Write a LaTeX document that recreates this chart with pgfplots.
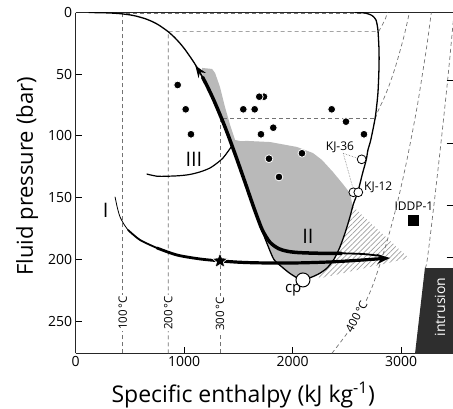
\documentclass[border=0pt]{standalone}
\usepackage{fontspec}
\setmainfont{Open Sans}
\usepackage{pgfplots}
\pgfplotsset{compat=1.18}
\usetikzlibrary{arrows.meta,patterns.meta}

\pgfdeclareplotmark{fstar}{%
  \pgfpathmoveto{\pgfpointpolar{90}{\pgfplotmarksize}}%
  \pgfpathlineto{\pgfpointpolar{126}{0.45\pgfplotmarksize}}%
  \pgfpathlineto{\pgfpointpolar{162}{\pgfplotmarksize}}%
  \pgfpathlineto{\pgfpointpolar{198}{0.45\pgfplotmarksize}}%
  \pgfpathlineto{\pgfpointpolar{234}{\pgfplotmarksize}}%
  \pgfpathlineto{\pgfpointpolar{270}{0.45\pgfplotmarksize}}%
  \pgfpathlineto{\pgfpointpolar{306}{\pgfplotmarksize}}%
  \pgfpathlineto{\pgfpointpolar{342}{0.45\pgfplotmarksize}}%
  \pgfpathlineto{\pgfpointpolar{18}{\pgfplotmarksize}}%
  \pgfpathlineto{\pgfpointpolar{54}{0.45\pgfplotmarksize}}%
  \pgfpathclose
  \pgfusepathqfillstroke
}

\begin{document}
\begin{tikzpicture}
\begin{axis}[
  name=ax,
  scale only axis, width=377.3pt, height=340.8pt,
  xmin=0, xmax=3478, ymin=0, ymax=276, y dir=reverse,
  axis x line*=box, axis y line*=left,
  axis line style={line width=1.3pt, black!85},
  xtick pos=bottom, ytick pos=left,
  tick align=inside, major tick length=6pt,
  every tick/.style={black, line width=1pt},
  xtick={0,1000,2000,3000}, ytick={0,50,100,150,200,250},
  /pgf/number format/assume math mode=true,
  /pgf/number format/1000 sep={},
  ticklabel style={font=\fontsize{14}{17}\selectfont},
  xlabel={Specific enthalpy (kJ kg\textsuperscript{-1})},
  ylabel={Fluid pressure (bar)},
  xlabel style={at={(axis description cs:0.444,-0.1458)}, anchor=base, font=\fontsize{23}{27}\selectfont},
  ylabel style={at={(axis description cs:-0.1132,0.519)}, anchor=base, font=\fontsize{22}{26}\selectfont},
  iso/.style={black!55, line width=0.7pt, dash pattern=on 4pt off 3pt},
  clip=true,
]
% gray two-phase inclusion field
\addplot[fill=gray!55, draw=none] coordinates {
 (1164,44.9)(1257,45.7)(1285,49)(1330,60.3)(1376,76.5)(1423,91)(1469,103.2)(1520,104.2)(1580,104)(1792,104.9)(2040,108.9)(2187,113.8)(2270,119.4)(2371,129.1)(2463,138.9)(2528,146.2)(2553,157)
 (2528,165.6)(2485,178)(2436,189.9)(2380,200)(2316,207)(2250,211.2)(2178,214.2)(2095,216.6)
 (2039,214.8)(1970,211)(1900,206)(1827,200)(1777,190)(1732,180)(1690,170)(1650,160)(1610,150)(1571,140)(1531,130)(1491,120)(1450,110)(1408,100)(1364,90)(1317,80)(1268,70)(1214,60)(1170,52)
} -- cycle;
% hatched field
\addplot[draw=none, pattern={Lines[angle=45,distance=3.6pt,line width=0.7pt]}, pattern color=gray!75] coordinates {
 (2553,157)(3072,199)(2240,215.5)(2250,211.2)(2316,207)(2380,200)(2436,189.9)(2485,178)(2528,165.6)
} -- cycle;
% isotherms
\addplot[iso] coordinates {(430,276)(430,1)(2660,1)};
\addplot[iso] coordinates {(853,276)(853,15.5)(2792,15.5)(2827,10)(2855,5)(2875,0)};
\addplot[iso] coordinates {(1330,276)(1330,86)(2762,86)};
\addplot[iso, smooth] coordinates {(2762,86)(2786,80)(2839,70)(2885,60)(2925,50)(2961,40)(2993,30)(3024,20)(3051,10)(3076,0)};
\addplot[iso, smooth] coordinates {(2362,276)(2580,250)(2720,225)(2819,200)(2903,175)(2976,150)(3040,125)(3097,100)(3150,75)(3196,50)(3240,25)(3278,0)};
\addplot[iso, smooth] coordinates {(3219,207)(3241,200)(3310,150)(3374,100)(3434,50)(3488,0)};
% intrusion
\addplot[fill=black!82, draw=none] coordinates {(3127,277)(3219,207)(3490,207)(3490,277)} -- cycle;
\node[white, rotate=90, font=\fontsize{14}{17}\selectfont] at (axis cs:3358,238.5) {intrusion};
% isotherm labels
\node[rotate=90, fill=white, inner sep=1pt, font=\fontsize{11.5}{14}\selectfont] at (axis cs:433,243.3) {100\,°C};
\node[rotate=90, fill=white, inner sep=1pt, font=\fontsize{11.5}{14}\selectfont] at (axis cs:853,243.3) {200\,°C};
\node[rotate=90, fill=white, inner sep=1pt, font=\fontsize{11.5}{14}\selectfont] at (axis cs:1330,244) {300\,°C};
\node[rotate=62, fill=white, inner sep=1pt, font=\fontsize{11.5}{14}\selectfont] at (axis cs:2588,246.3) {400\,°C};
% saturation curve
\addplot[black, line width=1.3pt, smooth, tension=0.4] coordinates {
 (120,0)(251,0.2)(340,0.5)(417,1)(505,2)(561,3)(640,5)(710,7.5)(763,10)(845,15)(909,20)(962,25)(1008,30)(1087,40)(1155,50)(1214,60)(1268,70)(1317,80)(1364,90)(1408,100)(1450,110)(1491,120)(1531,130)(1571,140)(1610,150)(1650,160)(1690,170)(1732,180)(1777,190)(1827,200)(1900,206)(1970,211)(2039,214.8)(2095,216.6)
 (2178,214.2)(2250,211.2)(2316,207)(2380,200)(2436,189.9)(2485,178)(2528,165.6)(2560,155)(2600,145.6)(2645,130)(2678,119.4)(2694,111.3)(2720,103.2)(2762,84.6)(2786,65.2)(2796,44.1)(2796,30.4)(2786,14.2)(2768,6)(2731,2.4)(2667,0.4)(2575,0)
};
% path III
\addplot[black, line width=1.2pt, smooth] coordinates {(654,130.8)(750,132.6)(838,132.6)(950,132.2)(1050,131.2)(1150,129)(1238,125.9)(1310,121.5)(1358,117.8)(1400,113)(1440,108)};
\addplot[black, line width=1.3pt, -{Stealth[length=12pt,width=9pt]}] coordinates {(1175,53.5)(1150,49.5)(1125,45.8)(1103,43)};
% path II
\addplot[black, line width=3.5pt, smooth, line cap=round] coordinates {(1170,52.5)(1214,60)(1268,70)(1317,80)(1364,90)(1408,100)(1450,110)(1491,120)(1531,130)(1571,140)(1610,150)(1650,160)(1690,169.5)(1725,177)(1790,186)(1870,191.2)(1948,193.3)(2050,194.4)(2250,195)(2450,195)};
\addplot[black, line width=1.8pt, smooth] coordinates {(2450,195)(2650,195.6)(2800,197)};
% path I
\addplot[black, line width=0.8pt, smooth, line cap=round] coordinates {(363,149.4)(385,158.5)(409,165.6)(445,171.5)(482,176.1)};
\addplot[black, line width=1.8pt, smooth, line cap=round] coordinates {(482,176.1)(593,184.2)(749,190.7)};
\addplot[black, line width=2.8pt, smooth, line cap=round] coordinates {(749,190.7)(934,196.4)(1146,199.6)(1330,201.2)};
\addplot[black, line width=3.2pt, smooth, -{Stealth[length=13pt,width=10pt]}] coordinates {(1330,201.2)(1520,202.3)(1729,202.8)(2042,202.8)(2346,202)(2650,200.4)(2897,198.8)};
% star
\addplot[only marks, mark=fstar, mark size=8pt, mark options={fill=black, draw=white, line width=0.6pt}] coordinates {(1330,201.2)};
% leader lines
\addplot[gray, densely dotted, line width=0.6pt] coordinates {(2466,114)(2612,118.5)};
\addplot[gray, densely dotted, line width=0.6pt] coordinates {(2466,114)(2552,141)};
% black dots
\addplot[only marks, mark=*, mark size=3.9pt, mark options={fill=black, draw=white, line width=0.8pt}] coordinates {
 (1735.6,68.2)(1692.2,68.2)(940.1,58.7)(1013.9,78.4)(1062.7,98.6)(1544.8,78.4)(1649.8,78.4)(2359.6,78.4)(2491.4,88.4)(2657.3,98.6)(1821.3,93.3)(1707.9,98.6)(2085.8,114.0)(1781.7,118.4)(1873.8,133.2)
};
% open circles
\addplot[only marks, mark=*, mark size=4.4pt, mark options={fill=white, draw=black, line width=0.8pt}] coordinates {(2636,118.9)(2559,145.6)(2605,145.6)};
\addplot[only marks, mark=*, mark size=7pt, mark options={fill=white, draw=black, line width=1pt}] coordinates {(2095,216.6)};
% IDDP-1
\addplot[only marks, mark=square*, mark size=5pt, mark options={fill=black, draw=black}] coordinates {(3109,168)};
% right-hand ticks of adjoining panel
\addplot[black, line width=1pt] coordinates {(3420,54.7)(3480,54.7)};
\addplot[black, line width=1pt] coordinates {(3420,105.7)(3480,105.7)};
\addplot[black, line width=1pt] coordinates {(3420,155.9)(3480,155.9)};
\addplot[black, line width=1pt] coordinates {(3420,198.8)(3480,198.8)};
% labels
\node[font=\fontsize{12}{14}\selectfont] at (axis cs:2436,108.9) {KJ-36};
\node[font=\fontsize{12}{14}\selectfont] at (axis cs:2789,141.7) {KJ-12};
\node[font=\fontsize{12}{14}\selectfont] at (axis cs:3118,157.2) {IDDP-1};
\node[font=\fontsize{15}{18}\selectfont] at (axis cs:2005,225) {cp};
\node[font=\fontsize{20}{24}\selectfont] at (axis cs:1090,118.6) {III};
\node[font=\fontsize{20}{24}\selectfont] at (axis cs:2140,181) {II};
\node[font=\fontsize{20}{24}\selectfont] at (axis cs:277,160) {I};
\end{axis}
\pgfresetboundingbox
\path[use as bounding box] ([xshift=-75.7pt,yshift=-54.7pt]ax.south west) rectangle ([yshift=12.5pt]ax.north east);
\end{tikzpicture}
\end{document}
